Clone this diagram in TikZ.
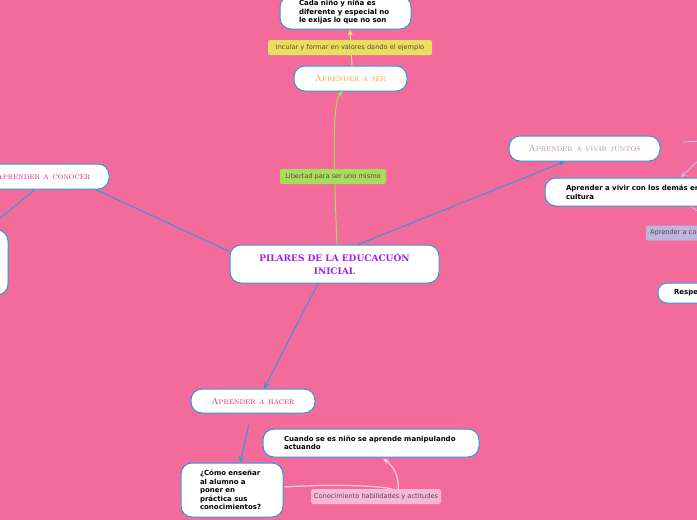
\documentclass[tikz,border=0pt]{standalone}
\usepackage{fontspec}
\usetikzlibrary{arrows.meta,calc}
\newfontfamily\sansf{DejaVu Sans}
\newfontfamily\slabf{DejaVu Serif}
\definecolor{bgpink}{HTML}{F26B9B}
\definecolor{blueline}{HTML}{2F97DB}
\definecolor{purp}{HTML}{A020F0}
\definecolor{orangetxt}{HTML}{F5A020}
\definecolor{magtxt}{HTML}{E0208C}
\definecolor{liltxt}{HTML}{C77DC0}
\definecolor{redtxt}{HTML}{E8205A}
\definecolor{yellab}{HTML}{E9DF5C}
\definecolor{greenlab}{HTML}{A8DD5B}
\definecolor{lavlab}{HTML}{BDB5DA}
\definecolor{pinklab}{HTML}{F6B8D5}
\definecolor{labtxt}{HTML}{4A4A4A}
\definecolor{yelline}{HTML}{F2E36B}
\definecolor{lavline}{HTML}{C6BCE0}
\definecolor{pinkline}{HTML}{F9CDE0}
\begin{document}
\begin{tikzpicture}[x=1pt,y=-1pt,
  box/.style={draw=blueline, line width=1pt, fill=white, rounded corners=11pt, inner sep=0pt},
  tb/.style={box, font=\sansf\bfseries\fontsize{7}{8.5}\selectfont, align=left},
  topic/.style={box, font=\fontsize{9}{10}\selectfont},
  lbl/.style={rounded corners=2pt, inner sep=0pt, font=\sansf\fontsize{6.6}{8}\selectfont, text=labtxt},
  conn/.style={draw=blueline, line width=1pt},
  tip/.style={-{Stealth[length=6pt,width=5pt]}}]
\fill[bgpink] (0,0) rectangle (697,520);
\useasboundingbox (0,0) rectangle (697,520);
\clip (0,0) rectangle (697,520);

% nodes
\node[box, minimum width=209pt, minimum height=38pt, font=\slabf\bfseries\fontsize{9}{13}\selectfont, text=purp, align=center] (c) at (334.5,264) {PILARES DE LA EDUCACUÓN\\INICIAL};
\node[topic, minimum width=113pt, minimum height=25pt, text=orangetxt] (ser) at (350.5,78.5) {\textsc{Aprender a ser}};
\node[tb, text width=93pt, inner xsep=19pt, minimum height=33pt] (cada) at (345.5,12.5) {Cada niño y niña es\\diferente y especial no\\le exijas lo que no son};
\node[topic, minimum width=132pt, minimum height=25pt, text=magtxt] (conocer) at (43,176.5) {\textsc{Aprender a conocer}};
\node[box, minimum width=108pt, minimum height=65pt] (leftbox) at (-46,262.5) {};
\node[topic, minimum width=151pt, minimum height=25pt, text=liltxt] (vivir) at (584.5,148.5) {\textsc{Aprender a vivir juntos}};
\node[tb, text width=173pt, inner xsep=21pt, minimum height=28pt] (demas) at (652.5,192) {Aprender a vivir con los demás en\\cultura};
\node[tb, text width=120pt, inner xsep=16pt, minimum height=20pt, rounded corners=9pt] (respe) at (734,293) {Respe};
\node[topic, minimum width=124pt, minimum height=24pt, text=redtxt] (hacer) at (253,401) {\textsc{Aprender a hacer}};
\node[tb, text width=64pt, inner xsep=19pt, minimum height=54pt] (como) at (232,490) {¿Cómo enseñar\\al alumno a\\poner en\\práctica sus\\conocimientos?};
\node[tb, text width=174pt, inner xsep=21pt, minimum height=28pt] (cuando) at (371,443) {Cuando se es niño se aprende manipulando\\actuando};

% connectors
\draw[conn] (c.north west) ++(0,7) coordinate (cl) -- ($(conocer.south east)+(-14,0)$);
\draw[conn] ($(conocer.south)+(-8,0)$) -- ($(leftbox.north east)+(-22,0)$);
\draw[conn,tip] ($(c.north)+(23.5,0)$) -- ($(vivir.south)+(-19.5,0)$);
\draw[conn,tip] ($(c.south)+(-16.5,0)$) -- ($(hacer.north)+(11,0)$);
\coordinate (hs) at ($(hacer.south)+(-4,11)$);
\draw[conn,tip] (hs) -- ($(como.north)+(8,0)$);
\draw[draw=greenlab, line width=1pt, tip] ($(c.north)+(2.5,0)$) .. controls (333,150) and (333,100) .. ($(ser.south)+(-7.5,0)$);
\draw[draw=yelline, line width=1pt, tip] ($(ser.north)+(1.5,0)$) -- ($(cada.south)+(4.5,0)$);
\draw[draw=pinkline, line width=1.2pt, tip] ($(como.east)+(1,-3)$) .. controls (330,484) and (395,485) .. (398,492) coordinate (pm)
  .. controls (400,475) and (392,465) .. ($(cuando.south)+(12,1)$);
\coordinate (offa) at (720,140);
\coordinate (offb) at (720,142);
\coordinate (offc) at (715,145);
\coordinate (offd) at (720,225);
\draw[draw=lavline, line width=1pt] (683,142) -- (offa);
\draw[draw=lavline, line width=1pt, tip] (offc) -- ($(demas.north)+(28,0)$);
\draw[draw=lavline, line width=1pt] ($(demas.south)+(38,0)$) -- (offd);

% labels
\node[lbl, fill=yellab, minimum width=164pt, minimum height=15pt] (inc) at (350,47.5) {Incular y formar en valores dando el ejemplo};
\node[lbl, fill=greenlab, minimum width=106pt, minimum height=15pt] (lib) at (333,176.5) {Libertad para ser uno mismo};
\node[lbl, fill=lavlab, minimum width=100pt, minimum height=15pt, text width=92pt, align=left] (aco) at (696,233) {Aprender a co};
\node[lbl, fill=pinklab, minimum width=130pt, minimum height=15pt] (cono) at (376,496.5) {Conocimiento habilidades y actitudes};
\end{tikzpicture}
\end{document}
